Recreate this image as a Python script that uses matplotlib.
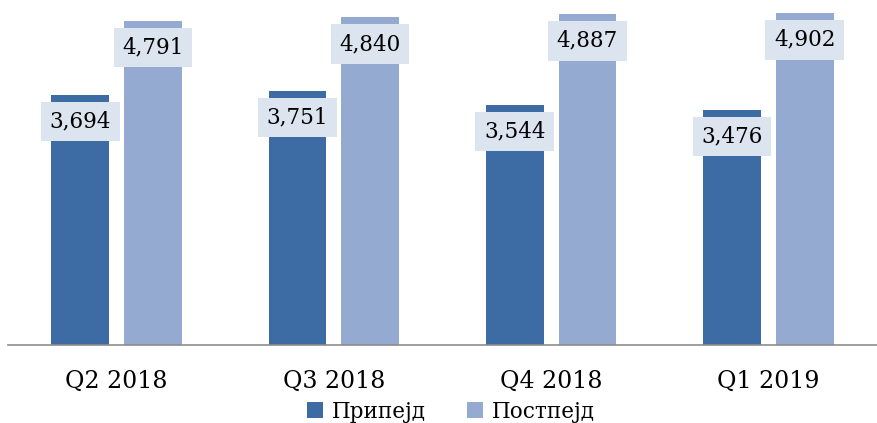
import numpy as np
import matplotlib.pyplot as plt

quarters = ['Q2 2018', 'Q3 2018', 'Q4 2018', 'Q1 2019']
prepaid = [3694, 3751, 3544, 3476]
postpaid = [4791, 4840, 4887, 4902]

dark = '#3D6BA3'
light = '#94AAD1'
box = '#DCE4F0'

plt.rcParams['font.family'] = ['DejaVu Serif']

fig = plt.figure(figsize=(8.77, 4.23), dpi=100)
ax = fig.add_axes([0.009, 0.184, 0.991, 0.816])

x = np.arange(len(quarters))
w = 0.266
off = 0.1674
b1 = ax.bar(x - off, prepaid, w, color=dark, label='Припејд')
b2 = ax.bar(x + off, postpaid, w, color=light, label='Постпејд')

# value labels in boxes, a bit below the top of each bar
for xs, vals in ((x - off, prepaid), (x + off, postpaid)):
    for xi, v in zip(xs, vals):
        ax.text(xi, v - 395, f'{v:,}', ha='center', va='center', fontsize=15.5,
                bbox=dict(boxstyle='square,pad=0.4', fc=box, ec='none'))

ax.set_xlim(-0.5, 3.5)
ax.set_ylim(0, 5096)
ax.set_yticks([])
ax.set_xticks(x)
ax.set_xticklabels(quarters, fontsize=17)
ax.tick_params(axis='x', length=0, pad=18)
for s in ['top', 'left', 'right']:
    ax.spines[s].set_visible(False)
ax.spines['bottom'].set_color('#8C8C8C')
ax.spines['bottom'].set_linewidth(1.2)

fig.legend(handles=[b1, b2], loc='center', bbox_to_anchor=(0.514, 0.027), ncol=2,
           frameon=False, fontsize=15.5, handlelength=0.75, handleheight=0.75,
           handletextpad=0.4, columnspacing=1.9, borderpad=0)

fig.savefig('out.png', dpi=100)
